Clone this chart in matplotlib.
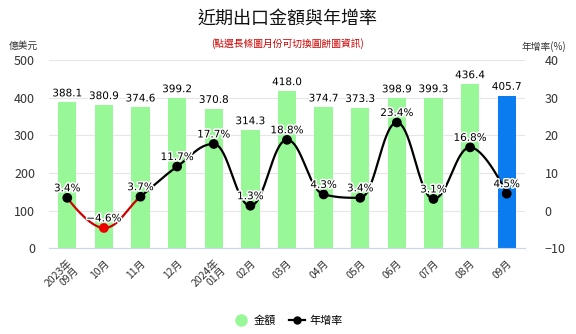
import numpy as np
import matplotlib.pyplot as plt
import matplotlib.patheffects as pe
from matplotlib.lines import Line2D

plt.rcParams['font.family'] = ['Noto Sans CJK TC', 'DejaVu Sans']

# monthly export amount (億美元) and yoy growth (%)
months = ['2023年\n09月', '10月', '11月', '12月', '2024年\n01月', '02月', '03月',
          '04月', '05月', '06月', '07月', '08月', '09月']
amount = [388.1, 380.9, 374.6, 399.2, 370.8, 314.3, 418.0, 374.7, 373.3,
          398.9, 399.3, 436.4, 405.7]
growth = [3.4, -4.6, 3.7, 11.7, 17.7, 1.3, 18.8, 4.3, 3.4, 23.4, 3.1, 16.8, 4.5]


def spline_path(xs, ys, smoothing=1.5, n=60):
    # bezier spline in the style of highcharts "spline" series
    m = len(xs)
    lc = [(xs[i], ys[i]) for i in range(m)]
    rc = [(xs[i], ys[i]) for i in range(m)]
    d = smoothing + 1
    for i in range(1, m - 1):
        px, py = xs[i], ys[i]
        lx, ly = xs[i - 1], ys[i - 1]
        nx, ny = xs[i + 1], ys[i + 1]
        lcx = (smoothing * px + lx) / d
        lcy = (smoothing * py + ly) / d
        rcx = (smoothing * px + nx) / d
        rcy = (smoothing * py + ny) / d
        if rcx != lcx:
            corr = (rcy - lcy) * (rcx - px) / (rcx - lcx) + py - rcy
            lcy += corr
            rcy += corr
        if lcy > ly and lcy > py:
            lcy = max(ly, py)
            rcy = 2 * py - lcy
        elif lcy < ly and lcy < py:
            lcy = min(ly, py)
            rcy = 2 * py - lcy
        if rcy > ny and rcy > py:
            rcy = max(ny, py)
            lcy = 2 * py - rcy
        elif rcy < ny and rcy < py:
            rcy = min(ny, py)
            lcy = 2 * py - rcy
        lc[i] = (lcx, lcy)
        rc[i] = (rcx, rcy)
    t = np.linspace(0, 1, n)[:, None]
    pts = []
    for i in range(m - 1):
        p0 = np.array([xs[i], ys[i]])
        p1 = np.array(rc[i])
        p2 = np.array(lc[i + 1])
        p3 = np.array([xs[i + 1], ys[i + 1]])
        seg = ((1 - t) ** 3) * p0 + 3 * ((1 - t) ** 2) * t * p1 \
            + 3 * (1 - t) * t ** 2 * p2 + t ** 3 * p3
        pts.append(seg if i == 0 else seg[1:])
    pts = np.vstack(pts)
    return pts[:, 0], pts[:, 1]


fig = plt.figure(figsize=(5.76, 3.34), dpi=100)
ax = fig.add_axes([0.085, 0.2566, 0.8265, 0.5638])
ax2 = ax.twinx()

x = np.arange(len(months))
colors = ['#98f898'] * (len(months) - 1) + ['#0a7cf0']
ax.bar(x, amount, width=0.5, color=colors, zorder=2)

outline = [pe.withStroke(linewidth=2.2, foreground='white')]
for xi, v in zip(x, amount):
    ax.text(xi, v + 10, f'{v:.1f}', ha='center', va='bottom', fontsize=7.5,
            color='#000000', family='DejaVu Sans', path_effects=outline, zorder=5)

ax.set_ylim(0, 500)
ax.set_xlim(-0.5, len(months) - 0.5)
ax.set_yticks(range(0, 501, 100))
ax.grid(axis='y', color='#e6e6e6', linewidth=0.8, zorder=0)
ax.set_axisbelow(True)
for s in ['top', 'right', 'left']:
    ax.spines[s].set_visible(False)
    ax2.spines[s].set_visible(False)
ax.spines['bottom'].set_color('#ccd6eb')
ax2.spines['bottom'].set_visible(False)
ax.tick_params(axis='y', length=0, labelsize=9, colors='#333333', pad=10)
ax.set_xticks(x)
ax.set_xticklabels(months, rotation=45, ha='right', rotation_mode='anchor',
                   fontsize=7.5, color='#333333', linespacing=0.95)
ax.tick_params(axis='x', length=0, pad=7)

# growth line: the stretch around a negative month is drawn in red
sx, sy = spline_path(list(x), growth)
neg_idx = [i for i, g in enumerate(growth) if g < 0]
near_neg = np.zeros_like(sx, dtype=bool)
for i in neg_idx:
    near_neg |= (sx > i - 1) & (sx < i + 1)
low = near_neg & (sy < 2.8)
low_join = low.copy()
low_join[1:] |= low[:-1]
low_join[:-1] |= low[1:]
above = np.where(~low, sy, np.nan)
below = np.where(low_join, sy, np.nan)
ax2.plot(sx, above, color='#000000', linewidth=1.6, zorder=3)
ax2.plot(sx, below, color='#cc0000', linewidth=1.6, zorder=3)
pt_colors = ['#ee0000' if g < 0 else '#000000' for g in growth]
ax2.scatter(x, growth, s=36, c=pt_colors, zorder=4)
for xi, g in zip(x, growth):
    label = f'{g:.1f}%'.replace('-', '\u2212')
    ax2.text(xi, g + 1.2, label, ha='center', va='bottom', fontsize=7.5,
             color='#000000', family='DejaVu Sans', path_effects=outline, zorder=6)

ax2.set_ylim(-10, 40)
ax2.set_yticks(range(-10, 41, 10))
ax2.tick_params(axis='y', length=0, labelsize=9, colors='#333333', pad=14)
ax2.set_zorder(ax.get_zorder() + 1)
ax2.patch.set_visible(False)

fig.text(0.5, 0.945, '近期出口金額與年增率', ha='center', va='center', fontsize=13,
         color='#111111')
fig.text(0.5, 0.87, '(點選長條圖月份可切換圓餅圖資訊)', ha='center', va='center',
         fontsize=7, color='#cc0000')
fig.text(0.04, 0.862, '億美元', ha='center', va='center', fontsize=7, color='#333333')
fig.text(0.945, 0.862, '年增率(%)', ha='center', va='center', fontsize=7, color='#333333')

handles = [
    Line2D([], [], marker='o', linestyle='none', color='#98f898', markersize=8),
    Line2D([], [], marker='o', color='#000000', markersize=5, linewidth=1.6),
]
fig.legend(handles, ['金額', '年增率'], loc='center', bbox_to_anchor=(0.5, 0.04),
           ncol=2, frameon=False, fontsize=8, handlelength=1.4, columnspacing=1.2,
           handletextpad=0.4)

fig.savefig('out.png', dpi=100)
